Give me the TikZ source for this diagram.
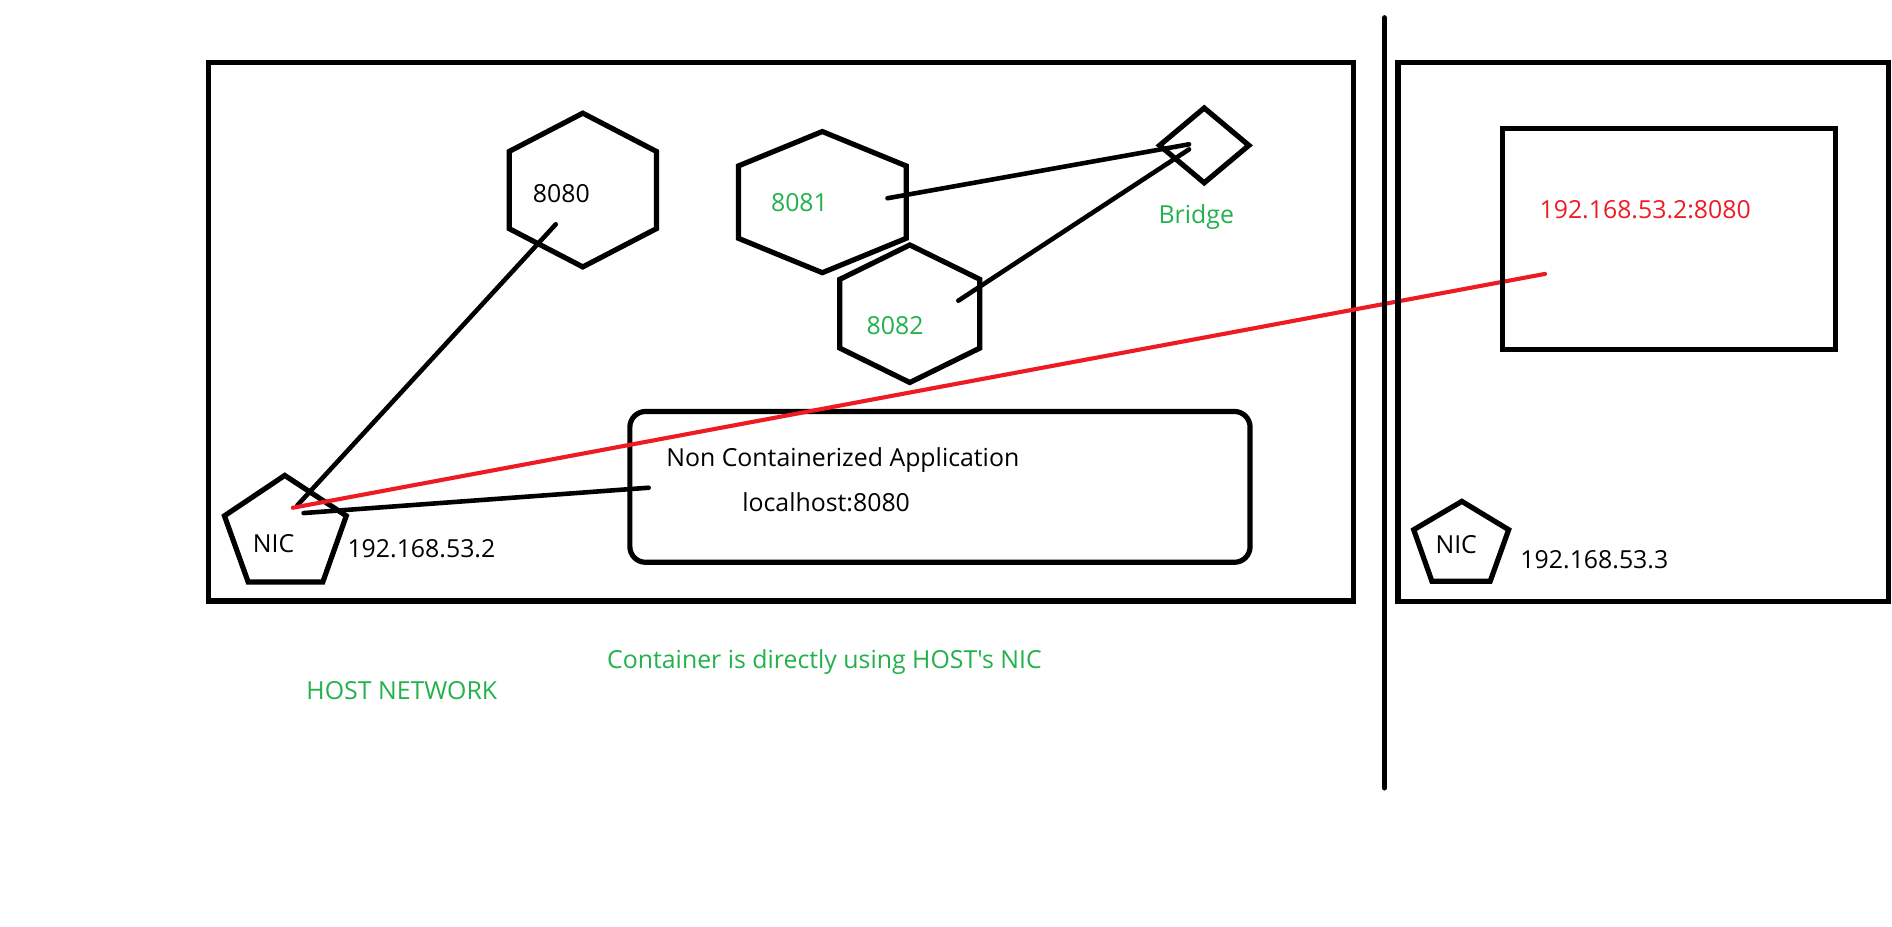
\documentclass[tikz,border=0pt]{standalone}
\usepackage{fontspec}
\setmainfont{Open Sans}[Ligatures=TeXOff]
\usepackage{tikz}
\definecolor{paintgreen}{RGB}{34,177,76}
\definecolor{paintred}{RGB}{237,28,36}
\tikzset{
	box line/.style={line width=4.3pt, draw=black, line join=miter},
	link/.style={line width=3.8pt, line cap=round, draw=black},
	red link/.style={line width=3.4pt, line cap=round, draw=paintred},
	caption/.style={inner sep=0pt, anchor=base west, font=\fontsize{20.6}{24}\selectfont},
}

\begin{document}
\begin{tikzpicture}[x=1pt, y=-1pt]
	\useasboundingbox (0,0) rectangle (1568,768);
	% host machine
	\draw[box line] (173,52) rectangle (1122,498);
	\draw[box line] (483,93.8) -- (544,125.5) -- (544,189.5) -- (483,221.2) -- (422,189.5) -- (422,125.5) -- cycle;
	\draw[box line] (681.5,109) -- (751,137.5) -- (751,197.5) -- (681.5,226) -- (612,197.5) -- (612,137.5) -- cycle;
	\draw[box line] (754,203) -- (812,231.5) -- (812,288.5) -- (754,317) -- (696,288.5) -- (696,231.5) -- cycle;
	\draw[box line] (998,89.5) -- (1035,120.5) -- (998,151.5) -- (961,120.5) -- cycle;
	\draw[box line] (236,394) -- (287,427.5) -- (267.5,482.4) -- (205.7,482.4) -- (186,427.5) -- cycle;
	\draw[box line, rounded corners=13pt] (522,341) rectangle (1036,466);
	\node[caption] (port8080) at (441.4,167.9) {8080};
	\node[caption, text=paintgreen] (port8081) at (638.8,175.4) {8081};
	\node[caption, text=paintgreen] (port8082) at (718,277.6) {8082};
	\node[caption, text=paintgreen] (bridge) at (960,185.6) {Bridge};
	\node[caption] (nicA) at (209.4,457.7) {NIC};
	\node[caption] (ipA) at (287.8,462) {192.168.53.2};
	\node[caption] (app) at (552,387) {Non Containerized Application};
	\node[caption] (localhost) at (615,424) {localhost:8080};
	\node[caption, text=paintgreen] (note) at (503,554) {Container is directly using HOST's NIC};
	\node[caption, text=paintgreen] (hostnet) at (253.8,579.4) {HOST NETWORK};
	% connector ends
	\coordinate (nicA-a) at (246.4,418.8);
	\coordinate (nicA-b) at (251.6,425.2);
	\coordinate (nicA-c) at (242.7,420.8);
	\coordinate (hex8080) at (460.6,185.9);
	\coordinate (appbox) at (537.6,404.2);
	\coordinate (hex8081) at (735.5,164.3);
	\coordinate (hex8082) at (794.2,249.2);
	\coordinate (bridge-a) at (985.4,119.6);
	\coordinate (bridge-b) at (985.4,123.8);
	\coordinate (remoteapp) at (1280.4,227);
	\draw[link] (nicA-a) -- (hex8080);
	\draw[link] (nicA-b) -- (appbox);
	\draw[link] (hex8081) -- (bridge-a);
	\draw[link] (hex8082) -- (bridge-b);
	\draw[red link] (nicA-c) -- (remoteapp);
	% other machine
	\draw[line width=4.3pt, line cap=round] (1147.4,14.7) -- (1147.4,653);
	\draw[box line] (1158.6,51.8) rectangle (1565,498.8);
	\draw[box line] (1245.3,106.5) rectangle (1520.9,289.7);
	\draw[box line] (1211.5,415.5) -- (1250.3,439) -- (1235,481.7) -- (1186.7,481.7) -- (1171.6,439) -- cycle;
	\node[caption, text=paintred] (remote) at (1275.7,180.9) {192.168.53.2:8080};
	\node[caption] (nicB) at (1189.5,458.8) {NIC};
	\node[caption] (ipB) at (1259.9,470.9) {192.168.53.3};
\end{tikzpicture}
\end{document}
